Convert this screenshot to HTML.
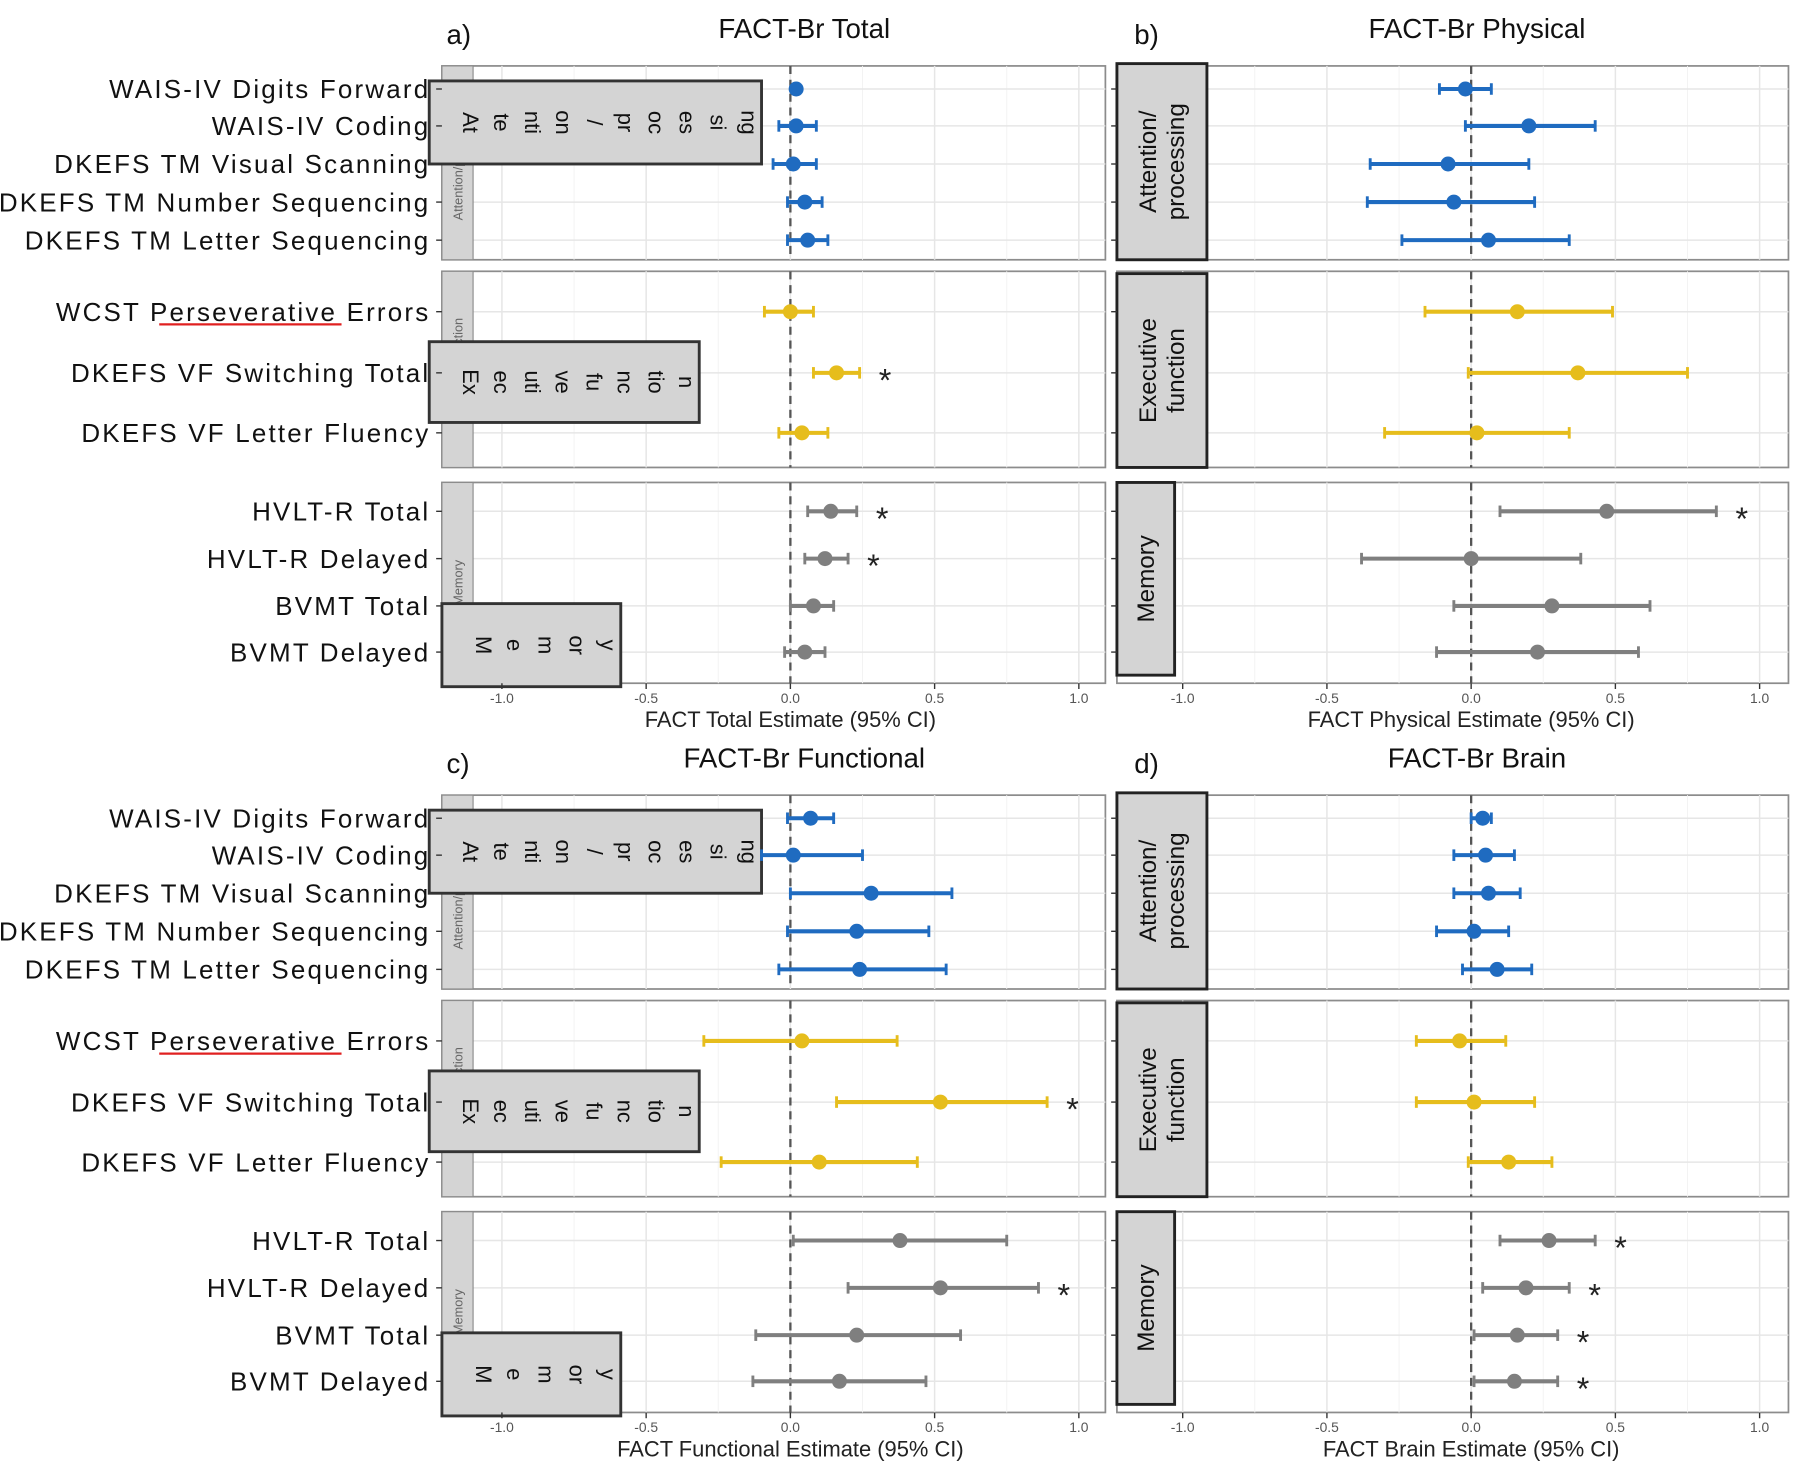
<!DOCTYPE html>
<html><head><meta charset="utf-8">
<style>
html,body{margin:0;padding:0;background:#fff;}
svg{display:block;}
text{font-family:"Liberation Sans",sans-serif;}
</style></head>
<body>
<svg id="chart" width="1800" height="1468" viewBox="0 0 1560 1272" xmlns="http://www.w3.org/2000/svg"></svg>
<script>
const labels = ["WAIS-IV Digits Forward","WAIS-IV Coding","DKEFS TM Visual Scanning","DKEFS TM Number Sequencing","DKEFS TM Letter Sequencing","WCST Perseverative Errors","DKEFS VF Switching Total","DKEFS VF Letter Fluency","HVLT-R Total","HVLT-R Delayed","BVMT Total","BVMT Delayed"];
const groups = [0,0,0,0,0,1,1,1,2,2,2,2];
const tickVals = [-1.0,-0.5,0.0,0.5,1.0];
const tickLabels = ["-1.0","-0.5","0.0","0.5","1.0"];
// panel a: FACT-Br Total
const totEst = [0.02,0.02,0.01,0.05,0.06,0.00,0.16,0.04,0.14,0.12,0.08,0.05];
const totLo  = [0.01,-0.04,-0.06,-0.01,-0.01,-0.09,0.08,-0.04,0.06,0.05,0.00,-0.02];
const totHi  = [0.03,0.09,0.09,0.11,0.13,0.08,0.24,0.13,0.23,0.20,0.15,0.12];
const totSig = [0,0,0,0,0,0,1,0,1,1,0,0];
// panel b: FACT-Br Physical
const phyEst = [-0.02,0.20,-0.08,-0.06,0.06,0.16,0.37,0.02,0.47,0.00,0.28,0.23];
const phyLo  = [-0.11,-0.02,-0.35,-0.36,-0.24,-0.16,-0.01,-0.30,0.10,-0.38,-0.06,-0.12];
const phyHi  = [0.07,0.43,0.20,0.22,0.34,0.49,0.75,0.34,0.85,0.38,0.62,0.58];
const phySig = [0,0,0,0,0,0,0,0,1,0,0,0];
// panel c: FACT-Br Functional
const funEst = [0.07,0.01,0.28,0.23,0.24,0.04,0.52,0.10,0.38,0.52,0.23,0.17];
const funLo  = [-0.01,-0.10,0.00,-0.01,-0.04,-0.30,0.16,-0.24,0.01,0.20,-0.12,-0.13];
const funHi  = [0.15,0.25,0.56,0.48,0.54,0.37,0.89,0.44,0.75,0.86,0.59,0.47];
const funSig = [0,0,0,0,0,0,1,0,0,1,0,0];
// panel d: FACT-Br Brain
const brEst = [0.04,0.05,0.06,0.01,0.09,-0.04,0.01,0.13,0.27,0.19,0.16,0.15];
const brLo  = [0.00,-0.06,-0.06,-0.12,-0.03,-0.19,-0.19,-0.01,0.10,0.04,0.01,0.01];
const brHi  = [0.07,0.15,0.17,0.13,0.21,0.12,0.22,0.28,0.43,0.34,0.30,0.30];
const brSig = [0,0,0,0,0,0,0,0,1,1,1,1];

const NS="http://www.w3.org/2000/svg";
const svg=document.getElementById('chart');
const colors=["#1f6bc0","#e6bd1c","#7f7f7f"];
function mk(tag,attrs,parent,txt){const e=document.createElementNS(NS,tag);for(const k in attrs)e.setAttribute(k,attrs[k]);if(txt!==undefined)e.textContent=txt;(parent||svg).appendChild(e);return e;}

const rowY=[77,109,142,175,208,270,323,375,443,484,525,565];
const facetY=[[57,225],[235,405],[418,592]];

function panel(cfg){
  const g=mk('g',{},svg);
  
  
  const dy=cfg.dy, x0=cfg.zero, sc=250;
  const X=v=>x0+v*sc;
  const L=cfg.left, R=cfg.right;
  const t=mk('text',{x:cfg.titleX,y:33+dy,'font-size':24,'text-anchor':'middle',fill:'#111'},g,cfg.title);
  
  const tg=mk('text',{x:cfg.tagX,y:38+dy,'font-size':24,fill:'#111'},g,cfg.tag);
  
  facetY.forEach((fy,fi)=>{
    const y1=fy[0]+dy,y2=fy[1]+dy;
    const bg=mk('rect',{x:L,y:y1,width:R-L,height:y2-y1,fill:'#fff',stroke:'#8c8c8c','stroke-width':1.5},g);
    
    [-1,-0.75,-0.5,-0.25,0,0.25,0.5,0.75,1].forEach(v=>{
      const major=tickVals.includes(v);
      mk('line',{x1:X(v),x2:X(v),y1:y1,y2:y2,stroke:major?'#e6e6e6':'#f2f2f2','stroke-width':major?1.3:0.8},g);
    });
    rowY.forEach((ry,i)=>{if(groups[i]===fi)mk('line',{x1:L,x2:R,y1:ry+dy,y2:ry+dy,stroke:'#e6e6e6','stroke-width':1.3},g);});
    const zl=mk('line',{x1:X(0),x2:X(0),y1:y1,y2:y2,stroke:'#555','stroke-width':2,'stroke-dasharray':'7,5'},g);
    
  });
  const stripNames=["Attention/processing","Executive function","Memory"];
  if(cfg.leftStrip){
    facetY.forEach((fy,fi)=>{
      const y1=fy[0]+dy,y2=fy[1]+dy;
      const s=mk('rect',{x:L,y:y1,width:27,height:y2-y1,fill:'#d4d4d4',stroke:'#8c8c8c','stroke-width':1},g);
      
      mk('text',{x:0,y:0,'font-size':11,fill:'#666','text-anchor':'middle',transform:`translate(${L+18},${(y1+y2)/2}) rotate(-90)`},g,stripNames[fi]);
    });
    const boxes=[
      {x:372,y:70,w:288,h:72,parts:["At","te","nti","on","/","pr","oc","es","si","ng"]},
      {x:372,y:296,w:234,h:70,parts:["Ex","ec","uti","ve","fu","nc","tio","n"]},
      {x:383,y:523,w:155,h:72,parts:["M","e","m","or","y"]}];
    boxes.forEach(b=>{
      const r=mk('rect',{x:b.x,y:b.y+dy,width:b.w,height:b.h,fill:'#d4d4d4',stroke:'#333','stroke-width':2.5},g);
      
      const n=b.parts.length, step=(b.w-20)/n;
      b.parts.forEach((p,k)=>{
        mk('text',{x:0,y:0,'font-size':19,fill:'#111','text-anchor':'middle',transform:`translate(${b.x+10+step*(k+0.5)+6},${b.y+dy+b.h/2}) rotate(90)`},g,p);
      });
    });
  } else {
    const sb=[{x:968,y:55,w:78,h:170,l:["Attention/","processing"]},{x:968,y:237,w:78,h:168,l:["Executive","function"]},{x:968,y:418,w:50,h:167,l:["Memory"]}];
    sb.forEach(b=>{
      const r=mk('rect',{x:b.x,y:b.y+dy,width:b.w,height:b.h,fill:'#d4d4d4',stroke:'#222','stroke-width':2.5},g);
      
      const cx=b.x+b.w/2, cy=b.y+dy+b.h/2;
      b.l.forEach((ln,k)=>{
        const off=(k-(b.l.length-1)/2)*24;
        mk('text',{x:0,y:0,'font-size':21,fill:'#111','text-anchor':'middle',transform:`translate(${cx+off+7},${cy}) rotate(-90)`},g,ln);
      });
    });
  }
  rowY.forEach((ry,i)=>{
    const y=ry+dy;
    mk('line',{x1:L-5,x2:L,y1:y,y2:y,stroke:'#333','stroke-width':1.2},g);
    if(cfg.leftStrip){
      const lt=mk('text',{x:L-10,y:y+8,'font-size':22.5,'letter-spacing':1.9,'text-anchor':'end',fill:'#111'},g,labels[i]);
      
    }
  });
  if(cfg.leftStrip){
    mk('line',{x1:138,x2:296,y1:281+dy,y2:281+dy,stroke:'#e02020','stroke-width':2},g);
  }
  tickVals.forEach((v,k)=>{
    const bottom=facetY[2][1]+dy;
    mk('line',{x1:X(v),x2:X(v),y1:bottom,y2:bottom+5,stroke:'#333','stroke-width':1.2},g);
    const tl=mk('text',{x:X(v),y:bottom+17,'font-size':12,'text-anchor':'middle',fill:'#555'},g,tickLabels[k]);
    
  });
  const at=mk('text',{x:x0,y:630+dy,'font-size':19,'text-anchor':'middle',fill:'#222'},g,cfg.axis);
  
  cfg.est.forEach((e,i)=>{
    const y=rowY[i]+dy, c=colors[groups[i]];
    const ci=mk('line',{x1:X(cfg.lo[i]),x2:X(cfg.hi[i]),y1:y,y2:y,stroke:c,'stroke-width':3.5},g);
    
    [cfg.lo[i],cfg.hi[i]].forEach(v=>mk('line',{x1:X(v),x2:X(v),y1:y-5,y2:y+5,stroke:c,'stroke-width':2.5},g));
    const p=mk('circle',{cx:X(e),cy:y,r:6.5,fill:c},g);
    
    if(cfg.sig[i]){
      const st=mk('text',{x:X(cfg.hi[i])+22,y:y+16,'font-size':28,'text-anchor':'middle',fill:'#222'},g,'*');
      
    }
  });
}
panel({name:'panel-a-total',dy:0,zero:685,left:383,right:958,title:'FACT-Br Total',titleX:697,tag:'a)',tagX:387,axis:'FACT Total Estimate (95% CI)',leftStrip:true,est:totEst,lo:totLo,hi:totHi,sig:totSig});
panel({name:'panel-b-physical',dy:0,zero:1275,left:968,right:1550,title:'FACT-Br Physical',titleX:1280,tag:'b)',tagX:983,axis:'FACT Physical Estimate (95% CI)',leftStrip:false,est:phyEst,lo:phyLo,hi:phyHi,sig:phySig});
panel({name:'panel-c-functional',dy:632,zero:685,left:383,right:958,title:'FACT-Br Functional',titleX:697,tag:'c)',tagX:387,axis:'FACT Functional Estimate (95% CI)',leftStrip:true,est:funEst,lo:funLo,hi:funHi,sig:funSig});
panel({name:'panel-d-brain',dy:632,zero:1275,left:968,right:1550,title:'FACT-Br Brain',titleX:1280,tag:'d)',tagX:983,axis:'FACT Brain Estimate (95% CI)',leftStrip:false,est:brEst,lo:brLo,hi:brHi,sig:brSig});
</script>
</body></html>
